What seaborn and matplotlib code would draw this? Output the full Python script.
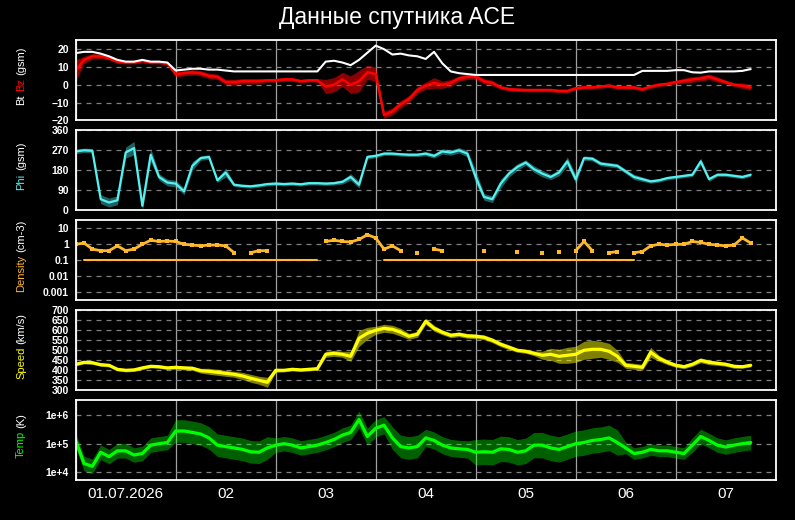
import matplotlib
matplotlib.use("Agg")
import matplotlib.dates as mdates
import matplotlib.pyplot as plt
import matplotlib.ticker as mticker
import numpy as np
import pandas as pd
import seaborn as sns

# ---- data (2-hour steps from 01.07.2026 00:00) ----
times = pd.date_range("2026-07-01 00:00", periods=82, freq="2h")

bt = [17.8, 18.5, 18.5, 17.5, 16, 14, 13, 13, 14, 13, 13, 12.5,
      8, 8.5, 9, 9, 8.5, 8.5, 8, 7.5, 7.5, 7.5, 7.5, 7.5,
      7.5, 7.5, 7.5, 7.5, 7.5, 7.5, 13, 13.5, 12.5, 11, 14, 18,
      22, 20, 17, 17.5, 16.5, 16, 14.5, 18.5, 12, 7.5, 6.5, 6,
      5.5, 5.5, 5.5, 5.5, 5.5, 5.5, 5.5, 5.5, 5.5, 5.5, 5.5, 5.5,
      5.5, 5.5, 5.5, 5.5, 5.5, 5.5, 5.5, 5.5, 7.8, 7.8, 7.8, 7.8,
      8.2, 8.2, 7, 6.8, 7.5, 7.5, 7.5, 7.5, 7.8, 8.8]

bz = [8, 14, 16, 16, 15, 13, 12.5, 12.5, 13.5, 12.5, 12.5, 12,
      6, 6.5, 7, 6.5, 5, 4.5, 1.5, 1.5, 2, 2, 2, 2.5,
      2.5, 3, 3, 2, 2.5, 2.5, -1, 0, 3, 0, 2, 7,
      6, -17, -15, -11, -8, -3, -0.5, 1, 0, 1, 3.5, 4.5,
      4.5, 2, 1, -1.5, -2.5, -2.8, -3, -3, -3, -3, -3.5, -3.5,
      -2, -1.5, -1.5, -1, -0.5, -1.5, -1.5, -1.5, -2.5, -1, 0, 0.5,
      1.5, 2.2, 3, 3.5, 4.5, 3, 1.5, 0, -0.5, -1.5]

bz_spread = [6, 2, 1.5, 1.5, 1, 1, 0.8, 0.8, 0.8, 0.8, 0.8, 1,
             1.5, 1.5, 1.5, 1.5, 1.5, 1.5, 1.5, 1.5, 1.5, 1.5, 1.5, 1,
             1, 1, 1, 1, 1, 1, 4, 4, 4, 5, 6, 4,
             4, 2, 2, 2, 2, 2, 2, 3, 2, 2, 1.5, 1.5,
             1.5, 1.5, 1.5, 1, 1, 1, 1, 1, 1, 1, 1, 1,
             1, 1, 1, 1, 1, 1, 1, 1, 1, 1, 1, 1,
             1, 1.5, 1.5, 1.5, 1.5, 1.5, 1, 1, 1.5, 1.5]

phi = [265, 270, 268, 50, 35, 45, 260, 280, 20, 250, 150, 125,
       120, 85, 200, 235, 240, 135, 170, 115, 110, 108, 112, 118,
       120, 118, 120, 117, 122, 122, 120, 122, 128, 150, 115, 240,
       245, 255, 255, 252, 250, 250, 255, 245, 265, 260, 270, 255,
       150, 60, 50, 120, 165, 195, 215, 185, 165, 150, 170, 220,
       140, 235, 232, 210, 205, 200, 175, 150, 140, 130, 135, 145,
       150, 155, 160, 220, 140, 160, 160, 155, 150, 160]

phi_spread = [10, 10, 10, 20, 20, 20, 25, 30, 20, 30, 15, 15,
              15, 15, 20, 10, 10, 10, 20, 8, 8, 8, 8, 8,
              8, 8, 8, 8, 8, 8, 8, 8, 10, 15, 15, 10,
              8, 8, 8, 8, 8, 8, 10, 10, 12, 12, 12, 15,
              30, 15, 15, 20, 15, 15, 12, 15, 15, 12, 15, 20,
              20, 10, 10, 10, 10, 10, 10, 12, 10, 8, 8, 8,
              8, 8, 8, 15, 10, 8, 8, 8, 8, 8]

nan = np.nan
density = [1.0, 1.2, 0.5, 0.4, 0.4, 0.8, 0.4, 0.5, 1.0, 1.8, 1.5, 1.6,
           1.5, 1.0, 0.9, 0.8, 0.9, 0.9, 0.8, 0.3, nan, 0.3, 0.4, 0.4,
           nan, nan, nan, nan, nan, nan, 1.5, 1.8, 1.5, 1.4, 2.0, 4.0,
           2.5, 0.5, 0.8, 0.4, nan, 0.3, nan, 0.5, 0.4, nan, nan, nan,
           nan, 0.4, nan, nan, nan, 0.35, nan, nan, 0.3, nan, 0.35, nan,
           0.4, 1.5, 0.4, nan, 0.3, 0.35, nan, 0.3, 0.35, 0.8, 1.0, 0.9,
           1.0, 1.0, 1.5, 1.3, 1.0, 0.9, 0.8, 0.9, 2.5, 1.2]

density_floor = [nan, 0.1, 0.1, 0.1, 0.1, 0.1, 0.1, 0.1, 0.1, 0.1, 0.1, 0.1,
                 0.1, 0.1, 0.1, 0.1, 0.1, 0.1, 0.1, 0.1, 0.1, 0.1, 0.1, 0.1,
                 0.1, 0.1, 0.1, 0.1, 0.1, 0.1, nan, nan, nan, nan, nan, nan,
                 nan, 0.1, 0.1, 0.1, 0.1, 0.1, 0.1, 0.1, 0.1, 0.1, 0.1, 0.1,
                 0.1, 0.1, 0.1, 0.1, 0.1, 0.1, 0.1, 0.1, 0.1, 0.1, 0.1, 0.1,
                 0.1, 0.1, 0.1, 0.1, 0.1, 0.1, 0.1, 0.1, nan, nan, nan, nan,
                 nan, nan, nan, nan, nan, nan, nan, nan, nan, nan]

speed = [430, 440, 438, 428, 425, 405, 400, 402, 412, 420, 418, 412,
         415, 412, 410, 398, 395, 390, 385, 380, 372, 360, 350, 340,
         400, 400, 405, 402, 405, 408, 480, 485, 480, 470, 560, 585,
         600, 610, 605, 590, 570, 580, 645, 610, 590, 575, 580, 572,
         570, 565, 550, 530, 515, 500, 495, 485, 475, 480, 470, 475,
         480, 500, 505, 505, 495, 470, 425, 420, 415, 490, 460, 440,
         425, 418, 430, 450, 440, 435, 430, 420, 418, 425]

speed_spread = [8, 8, 8, 8, 8, 8, 8, 8, 8, 8, 8, 8,
                10, 10, 10, 12, 15, 15, 15, 15, 18, 20, 20, 25,
                10, 8, 8, 8, 8, 8, 15, 15, 15, 25, 40, 30,
                20, 20, 20, 20, 15, 15, 15, 15, 12, 12, 12, 12,
                12, 12, 12, 12, 12, 10, 10, 12, 20, 30, 35, 40,
                40, 45, 45, 40, 40, 30, 15, 15, 15, 25, 15, 12,
                10, 10, 10, 12, 12, 10, 10, 10, 8, 8]

temp = [1.3e5, 2.0e4, 1.6e4, 5.0e4, 3.5e4, 5.6e4, 5.6e4, 4.0e4, 4.5e4, 8.9e4, 1.0e5, 1.1e5,
        2.8e5, 2.8e5, 2.5e5, 2.2e5, 1.6e5, 8.9e4, 7.9e4, 7.1e4, 6.3e4, 5.2e4, 5.0e4, 7.1e4,
        8.9e4, 1.0e5, 8.9e4, 7.1e4, 7.9e4, 8.9e4, 1.1e5, 1.4e5, 2.0e5, 2.5e5, 7.1e5, 1.8e5,
        3.5e5, 4.5e5, 1.6e5, 7.9e4, 7.1e4, 7.9e4, 1.6e5, 1.3e5, 8.9e4, 7.1e4, 6.6e4, 6.3e4,
        5.0e4, 5.2e4, 5.0e4, 6.6e4, 6.3e4, 5.0e4, 5.6e4, 8.9e4, 8.9e4, 7.1e4, 6.3e4, 7.9e4,
        1.0e5, 1.1e5, 1.3e5, 1.4e5, 1.6e5, 1.1e5, 7.1e4, 4.5e4, 5.0e4, 6.3e4, 5.6e4, 5.6e4,
        5.0e4, 4.5e4, 8.9e4, 1.8e5, 1.3e5, 8.9e4, 7.6e4, 8.9e4, 1.0e5, 1.1e5]

# multiplicative scatter around temp
temp_spread = [1.8, 1.8, 1.8, 1.8, 1.8, 1.8, 1.8, 1.8, 1.8, 1.8, 1.8, 1.8,
               2.5, 2.5, 2.5, 2.5, 2.5, 2.5, 2.5, 2.5, 2.5, 2.5, 2.5, 2.5,
               1.8, 1.8, 1.8, 1.8, 1.8, 1.8, 1.8, 1.8, 1.8, 1.8, 2.0, 2.0,
               2.0, 2.0, 2.5, 2.5, 2.5, 2.5, 2.0, 2.0, 2.0, 2.0, 2.0, 2.0,
               2.8, 2.8, 2.8, 2.8, 2.8, 2.8, 2.8, 2.8, 2.8, 2.8, 2.8, 2.8,
               2.8, 2.8, 2.8, 2.8, 2.8, 2.8, 1.6, 1.6, 1.6, 1.6, 1.6, 1.6,
               1.6, 1.6, 1.8, 1.8, 1.8, 1.8, 1.8, 1.8, 1.8, 1.8]

day_labels = ["01.07.2026", "02", "03", "04", "05", "06", "07"]

C_BT, C_BZ = "white", "#ff0000"
C_PHI, C_DEN, C_SPD, C_TMP = "#55f0f0", "#ffb82a", "#ffff00", "#00ff00"

# ---- style ----
sns.set_theme(style="dark", rc={
    "figure.facecolor": "black", "axes.facecolor": "black",
    "axes.edgecolor": "white", "text.color": "white",
    "xtick.color": "white", "ytick.color": "white",
})
plt.rcParams["font.family"] = ["Liberation Sans", "DejaVu Sans"]

W, H = 795, 520
fig = plt.figure(figsize=(W / 100, H / 100), dpi=100)
left, width, ph = 75.7 / W, 700 / W, 80
tops = [40.3, 130.3, 220.3, 310.3, 400.3]
axes = [fig.add_axes([left, 1 - (t + ph) / H, width, ph / H]) for t in tops]

t0, t1 = pd.Timestamp("2026-07-01"), pd.Timestamp("2026-07-08")
tarr = np.array(times.to_pydatetime())


def style(ax, ylim, ticks, labels=None, log=False):
    ax.set_facecolor("black")
    if log:
        ax.set_yscale("log")
    ax.set_ylim(*ylim)
    ax.set_yticks(ticks)
    if labels:
        ax.set_yticklabels(labels)
    ax.yaxis.set_minor_locator(mticker.NullLocator())
    ax.tick_params(axis="y", length=0, pad=5, labelsize=7.5, labelcolor="white")
    for lab in ax.get_yticklabels():
        lab.set_fontweight("bold")
    ax.set_xlim(t0, t1)
    ax.xaxis.set_major_locator(mdates.DayLocator())
    ax.xaxis.set_minor_locator(mdates.HourLocator(byhour=12))
    ax.xaxis.set_major_formatter(mticker.NullFormatter())
    ax.xaxis.set_minor_formatter(mticker.NullFormatter())
    ax.tick_params(axis="x", which="both", length=0)
    ax.grid(axis="y", color="#808080", linestyle=(0, (4, 4)), linewidth=0.9)
    ax.grid(axis="x", which="major", color="#a0a0a0", linestyle="-", linewidth=0.9)
    ax.set_axisbelow(True)
    for s in ax.spines.values():
        s.set_color("white")
        s.set_linewidth(1.3)
    ax.set_xlabel("")
    ax.set_ylabel("")


# panel 1: Bt / Bz
ax = axes[0]
lo = np.array(bz) - np.array(bz_spread)
hi = np.array(bz) + np.array(bz_spread)
ax.fill_between(tarr, lo, hi, color=C_BZ, alpha=0.55, linewidth=0)
sns.lineplot(x=tarr, y=bz, ax=ax, color=C_BZ, linewidth=1.8)
sns.lineplot(x=tarr, y=bt, ax=ax, color=C_BT, linewidth=1.5)
style(ax, (-20, 25), [-20, -10, 0, 10, 20])

# panel 2: Phi
ax = axes[1]
lo = np.array(phi) - np.array(phi_spread)
hi = np.array(phi) + np.array(phi_spread)
ax.fill_between(tarr, lo, hi, color=C_PHI, alpha=0.4, linewidth=0)
sns.lineplot(x=tarr, y=phi, ax=ax, color=C_PHI, linewidth=1.6)
style(ax, (0, 360), [0, 90, 180, 270, 360])

# panel 3: Density
ax = axes[2]
ax.plot(tarr, density_floor, color=C_DEN, linewidth=1.5)
ax.plot(tarr, density, color=C_DEN, linewidth=2.0, marker="s", markersize=2.5,
        markeredgewidth=0)
style(ax, (10 ** -3.5, 10 ** 1.5), [1e-3, 1e-2, 1e-1, 1, 10],
      ["0.001", "0.01", "0.1", "1", "10"], log=True)

# panel 4: Speed
ax = axes[3]
lo = np.array(speed) - np.array(speed_spread)
hi = np.array(speed) + np.array(speed_spread)
ax.fill_between(tarr, lo, hi, color=C_SPD, alpha=0.5, linewidth=0)
sns.lineplot(x=tarr, y=speed, ax=ax, color=C_SPD, linewidth=2.3)
style(ax, (300, 700), list(range(300, 701, 50)))

# panel 5: Temp
ax = axes[4]
lo = np.array(temp) / np.array(temp_spread)
hi = np.array(temp) * np.array(temp_spread)
ax.fill_between(tarr, lo, hi, color=C_TMP, alpha=0.38, linewidth=0)
sns.lineplot(x=tarr, y=temp, ax=ax, color=C_TMP, linewidth=2.3)
style(ax, (10 ** 3.71, 10 ** 6.53), [1e4, 1e5, 1e6], ["1e+4", "1e+5", "1e+6"], log=True)


def day_fmt(x, pos):
    d = mdates.num2date(x)
    return day_labels[d.day - 1] if 1 <= d.day <= len(day_labels) else ""


axes[4].xaxis.set_minor_formatter(mticker.FuncFormatter(day_fmt))
axes[4].tick_params(axis="x", which="minor", labelsize=11, pad=5, labelcolor="white")

# coloured rotated y labels
ylabels = [
    [("Bt", C_BT), ("Bz", C_BZ), ("(gsm)", "white")],
    [("Phi", C_PHI), ("(gsm)", "white")],
    [("Density", C_DEN), ("(cm-3)", "white")],
    [("Speed", C_SPD), ("(km/s)", "white")],
    [("Temp", C_TMP), ("(K)", "white")],
]
renderer = fig.canvas.get_renderer()
fs = 8
gap = 0.28 * fs * 100 / 72  # a space, in pixels
for parts, top in zip(ylabels, tops):
    objs = [fig.text(0, 0, s, color=c, fontsize=fs, rotation=90, ha="center", va="bottom")
            for s, c in parts]
    lens = [o.get_window_extent(renderer).height for o in objs]
    total = sum(lens) + gap * (len(objs) - 1)
    y = top + ph / 2 - 4.5 + total / 2  # bottom of text, px from top
    for o, ln in zip(objs, lens):
        o.set_position((21 / W, 1 - y / H))
        y -= ln + gap

fig.text(0.5, 1 - 24 / H, "Данные спутника ACE", ha="center", va="baseline",
         fontsize=16.5, color="white")

fig.savefig("out.png", dpi=100, facecolor="black")
